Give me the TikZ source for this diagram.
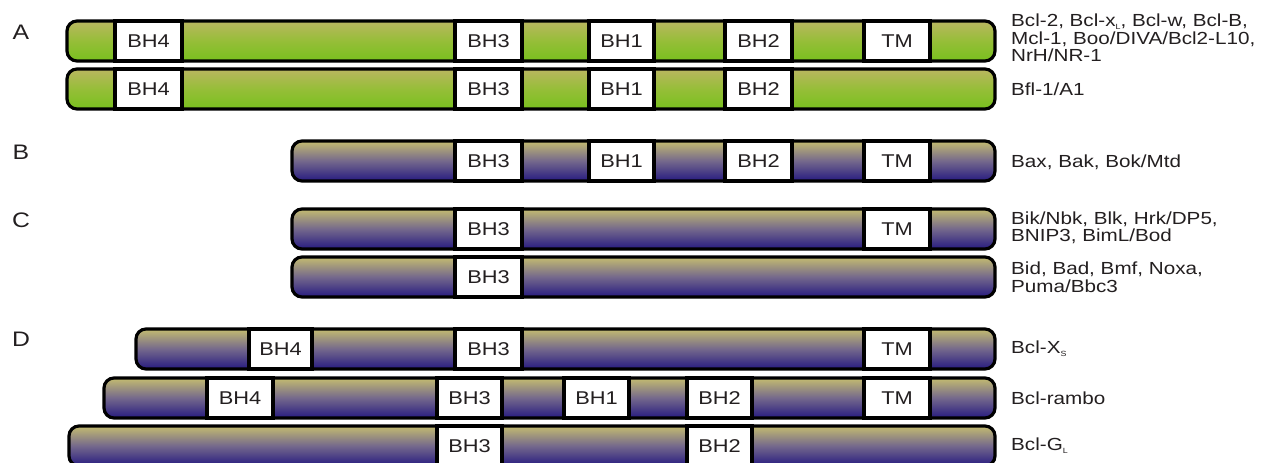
\documentclass[tikz,border=0pt]{standalone}
\usepackage{fontspec}
\setmainfont{Liberation Sans}[FakeStretch=1.18]
\usetikzlibrary{fit}

\definecolor{txt}{RGB}{35,31,32}
\definecolor{gtop}{RGB}{186,182,96}
\definecolor{gmid}{RGB}{150,190,56}
\definecolor{gbot}{RGB}{120,192,30}
\definecolor{ptop}{RGB}{196,188,112}
\definecolor{pmid}{RGB}{116,104,140}
\definecolor{pbot}{RGB}{38,26,128}

% small lowered subscript used in the protein names
\newcommand\sbs[1]{\raisebox{-0.3ex}{\fontsize{7.5}{7.5}\selectfont #1}}

\tikzset{
  barbase/.style={draw=black, line width=3.2pt, rounded corners=10pt,
                  inner sep=0pt, outer sep=0pt},
  gbar/.style={barbase, top color=gtop, bottom color=gbot, middle color=gmid},
  pbar/.style={barbase, top color=ptop, bottom color=pbot, middle color=pmid},
  dom/.style={draw=black, fill=white, line width=3.2pt, inner sep=0pt, outer sep=0pt},
  dtext/.style={text=txt, font=\fontsize{18.5}{18.5}\selectfont, inner sep=0pt},
  lab/.style={text=txt, font=\fontsize{17.5}{17.5}\selectfont, align=left,
              anchor=west, inner sep=0pt},
  grp/.style={text=txt, font=\fontsize{21}{21}\selectfont, inner sep=0pt}
}

% \dm{name}{text}{x left}{x right}: a domain box on the current row (\yt..\yb)
\newcommand\dm[4]{\node[dom, fit={(#3,\yt)(#4,\yb)},
  label={[dtext]center:#2}] (#1) {};}
% \protbar{name}{style}{x left}{x right}: the protein bar of the current row
\newcommand\protbar[4]{\node[#2, fit={(#3,\yt)(#4,\yb)}] (#1) {};}

\begin{document}
\begin{tikzpicture}[x=1pt, y=-1pt]
\clip (0,0) rectangle (1274,463);
\fill[white] (0,0) rectangle (1274,463);

% group letters
\node[grp] (gA) at (21,32) {A};
\node[grp] (gB) at (21,152) {B};
\node[grp] (gC) at (21,220) {C};
\node[grp] (gD) at (21,339) {D};

% ---- A: anti-apoptotic members
\def\yt{21}\def\yb{61}
\protbar{a1}{gbar}{67}{995}
\dm{a1h4}{BH4}{115}{182}
\dm{a1h3}{BH3}{455}{522}
\dm{a1h1}{BH1}{589}{654}
\dm{a1h2}{BH2}{725}{792}
\dm{a1tm}{TM}{864}{930}
\node[lab] (la1) at (1011,38)
  {Bcl-2, Bcl-x\sbs{L}, Bcl-w, Bcl-B,\\Mcl-1, Boo/DIVA/Bcl2-L10,\\NrH/NR-1};

\def\yt{69}\def\yb{109}
\protbar{a2}{gbar}{67}{995}
\dm{a2h4}{BH4}{115}{182}
\dm{a2h3}{BH3}{455}{522}
\dm{a2h1}{BH1}{589}{654}
\dm{a2h2}{BH2}{725}{792}
\node[lab] (la2) at (1011,89) {Bfl-1/A1};

% ---- B: multidomain pro-apoptotic members
\def\yt{141}\def\yb{181}
\protbar{b1}{pbar}{292}{995}
\dm{b1h3}{BH3}{455}{522}
\dm{b1h1}{BH1}{589}{654}
\dm{b1h2}{BH2}{725}{792}
\dm{b1tm}{TM}{864}{930}
\node[lab] (lb1) at (1011,162) {Bax, Bak, Bok/Mtd};

% ---- C: BH3-only members
\def\yt{209}\def\yb{249}
\protbar{c1}{pbar}{292}{995}
\dm{c1h3}{BH3}{455}{522}
\dm{c1tm}{TM}{864}{930}
\node[lab] (lc1) at (1011,228) {Bik/Nbk, Blk, Hrk/DP5,\\BNIP3, BimL/Bod};

\def\yt{257}\def\yb{297}
\protbar{c2}{pbar}{292}{995}
\dm{c2h3}{BH3}{455}{522}
\node[lab] (lc2) at (1011,277) {Bid, Bad, Bmf, Noxa,\\Puma/Bbc3};

% ---- D: other members
\def\yt{329}\def\yb{369}
\protbar{d1}{pbar}{136}{995}
\dm{d1h4}{BH4}{249}{312}
\dm{d1h3}{BH3}{455}{522}
\dm{d1tm}{TM}{864}{930}
\node[lab] (ld1) at (1011,349) {Bcl-X\sbs{S}};

\def\yt{378}\def\yb{418}
\protbar{d2}{pbar}{104}{995}
\dm{d2h4}{BH4}{207}{273}
\dm{d2h3}{BH3}{437}{502}
\dm{d2h1}{BH1}{564}{629}
\dm{d2h2}{BH2}{687}{752}
\dm{d2tm}{TM}{864}{930}
\node[lab] (ld2) at (1011,398) {Bcl-rambo};

\def\yt{426}\def\yb{466}
\protbar{d3}{pbar}{69}{995}
\dm{d3h3}{BH3}{437}{502}
\dm{d3h2}{BH2}{687}{752}
\node[lab] (ld3) at (1011,446) {Bcl-G\sbs{L}};
\end{tikzpicture}
\end{document}
